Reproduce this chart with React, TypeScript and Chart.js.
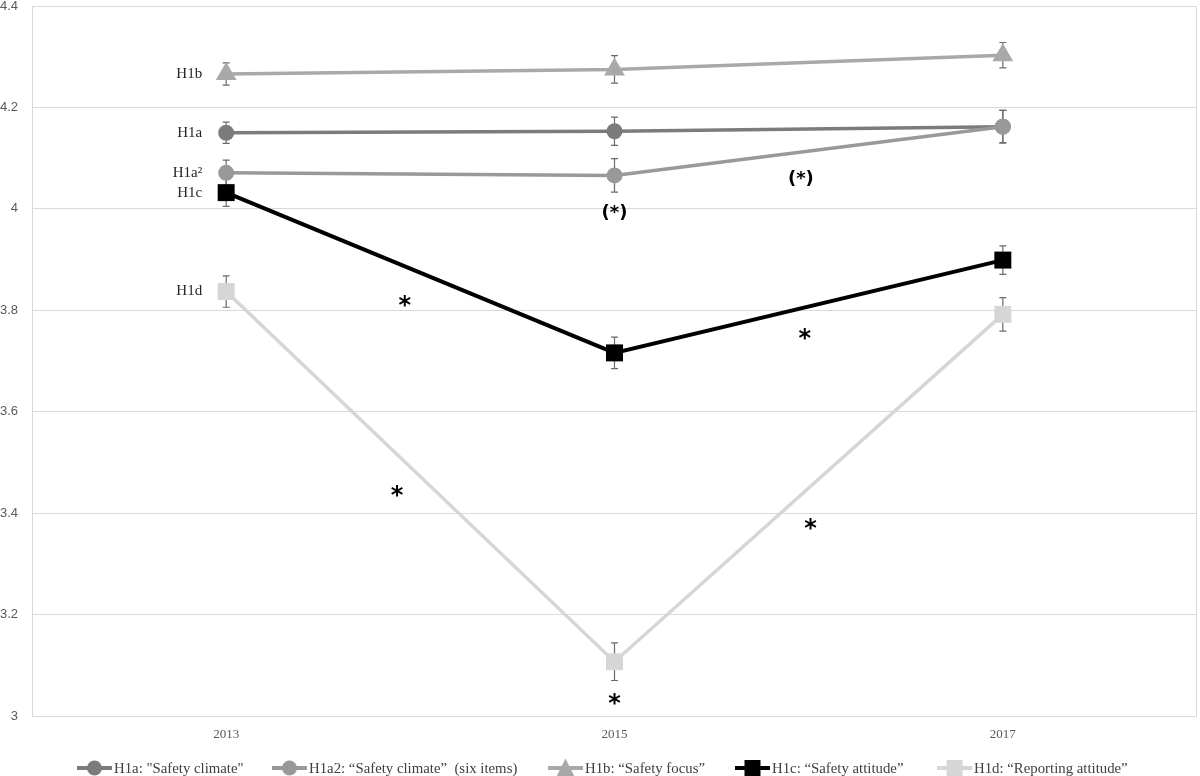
import { useEffect, useRef } from "react";
import { Chart, registerables } from "chart.js";

Chart.register(...registerables);

const YEARS = ["2013", "2015", "2017"];

const H1A = [4.15, 4.153, 4.162];
const H1A_ERR = [0.021, 0.028, 0.032];
const H1A2 = [4.071, 4.066, 4.162];
const H1A2_ERR = [0.025, 0.033, 0.032];
const H1B = [4.266, 4.275, 4.303];
const H1B_ERR = [0.022, 0.027, 0.025];
const H1C = [4.032, 3.716, 3.899];
const H1C_ERR = [0.027, 0.031, 0.028];
const H1D = [3.837, 3.107, 3.792];
const H1D_ERR = [0.031, 0.037, 0.033];

const Y_MIN = 3;
const Y_MAX = 4.4;
const Y_STEP = 0.2;

const LEGEND_LABELS = [
    'H1a: "Safety climate"',
    "H1a2: \u201cSafety climate\u201d  (six items)",
    "H1b: \u201cSafety focus\u201d",
    "H1c: \u201cSafety attitude\u201d",
    "H1d: \u201cReporting attitude\u201d",
];
const SIDE_LABELS = ["H1a", "H1a\u00b2", "H1b", "H1c", "H1d"];

// significance marks, x as category position, y as value
const STAR_TEXT = ["*", "*", "(*)", "(*)", "*", "*", "*"];
const STAR_X = [0.46, 0.44, 1.0, 1.48, 1.49, 1.505, 1.0];
const STAR_Y = [3.817, 3.442, 3.992, 4.059, 3.751, 3.377, 3.032];

const COLORS = ["#7b7b7b", "#999999", "#a9a9a9", "#000000", "#d6d6d6"];
const SHAPES = ["circle", "circle", "triangle", "rect", "rect"];
const RADII = [8, 8, 12, 12, 12];

const SERIES = [H1A, H1A2, H1B, H1C, H1D];
const ERRORS = [H1A_ERR, H1A2_ERR, H1B_ERR, H1C_ERR, H1D_ERR];

// legend entry starts (px), as laid out in the original
const LEGEND_X = [77, 272, 548, 735, 937];

const SERIF = "'Liberation Serif', 'Times New Roman', serif";

function marker(ctx: CanvasRenderingContext2D, shape: string, x: number, y: number, s: number, color: string) {
    ctx.save();
    ctx.fillStyle = color;
    ctx.beginPath();
    if (shape === "circle") {
        ctx.arc(x, y, s / 2, 0, Math.PI * 2);
    } else if (shape === "triangle") {
        ctx.moveTo(x, y - s / 2);
        ctx.lineTo(x + s / 2, y + s / 2);
        ctx.lineTo(x - s / 2, y + s / 2);
        ctx.closePath();
    } else {
        ctx.rect(x - s / 2, y - s / 2, s, s);
    }
    ctx.fill();
    ctx.restore();
}

const extrasPlugin = {
    id: "extras",
    beforeDatasetsDraw(chart: any) {
        const { ctx, chartArea, scales } = chart;
        const xs = scales.x;
        const ys = scales.y;
        ctx.save();
        ctx.strokeStyle = "#d9d9d9";
        ctx.lineWidth = 1;
        ctx.strokeRect(chartArea.left + 0.5, chartArea.top + 0.5, chartArea.right - chartArea.left - 1, chartArea.bottom - chartArea.top);
        ctx.restore();

        // error bars, under the markers
        ctx.save();
        ctx.strokeStyle = "#6b6b6b";
        ctx.lineWidth = 1.2;
        SERIES.forEach((vals, si) => {
            vals.forEach((v, i) => {
                const x = xs.getPixelForValue(i);
                const top = ys.getPixelForValue(v + ERRORS[si][i]);
                const bot = ys.getPixelForValue(v - ERRORS[si][i]);
                ctx.beginPath();
                ctx.moveTo(x, top);
                ctx.lineTo(x, bot);
                ctx.moveTo(x - 3.5, top);
                ctx.lineTo(x + 3.5, top);
                ctx.moveTo(x - 3.5, bot);
                ctx.lineTo(x + 3.5, bot);
                ctx.stroke();
            });
        });
        ctx.restore();
    },
    afterDatasetsDraw(chart: any) {
        const { ctx, scales } = chart;
        const xs = scales.x;
        const ys = scales.y;

        // series labels next to 2013 points
        ctx.save();
        ctx.fillStyle = "#262626";
        ctx.font = `15px ${SERIF}`;
        ctx.textAlign = "right";
        ctx.textBaseline = "middle";
        SERIES.forEach((vals, si) => {
            ctx.fillText(SIDE_LABELS[si], xs.getPixelForValue(0) - 24, ys.getPixelForValue(vals[0]));
        });
        ctx.restore();

        // significance marks
        ctx.save();
        ctx.fillStyle = "#000";
        ctx.textAlign = "center";
        ctx.textBaseline = "middle";
        STAR_TEXT.forEach((t, i) => {
            ctx.font = t === "*" ? "bold 24px 'DejaVu Sans', sans-serif" : "bold 18px 'DejaVu Sans', sans-serif";
            ctx.fillText(t, xs.getPixelForValue(STAR_X[i]), ys.getPixelForValue(STAR_Y[i]) + (t === "*" ? 5 : 0));
        });
        ctx.restore();
    },
    afterDraw(chart: any) {
        const { ctx } = chart;
        ctx.save();
        ctx.font = `14.8px ${SERIF}`;
        ctx.textBaseline = "middle";
        const lineLen = 35;
        const gap = 2;
        const y = chart.height - 8;
        LEGEND_LABELS.forEach((l, i) => {
            const x = LEGEND_X[i];
            ctx.strokeStyle = COLORS[i];
            ctx.lineWidth = 4;
            ctx.beginPath();
            ctx.moveTo(x, y);
            ctx.lineTo(x + lineLen, y);
            ctx.stroke();
            const s = SHAPES[i] === "circle" ? 15 : SHAPES[i] === "triangle" ? 19 : 16;
            marker(ctx, SHAPES[i], x + lineLen / 2, y, s, COLORS[i]);
            ctx.fillStyle = "#404040";
            ctx.fillText(l, x + lineLen + gap, y + 1);
        });
        ctx.restore();
    },
};

export default function App() {
    const chartRef = useRef<HTMLCanvasElement>(null);
    const chartInstanceRef = useRef<Chart | null>(null);

    useEffect(() => {
        document.body.style.margin = "0";
        const ctx = chartRef.current?.getContext("2d");
        if (ctx && !chartInstanceRef.current) {
            chartInstanceRef.current = new Chart(ctx, {
                type: "line",
                data: {
                    labels: YEARS,
                    datasets: SERIES.map((vals, i) => ({
                        label: LEGEND_LABELS[i],
                        data: vals,
                        borderColor: COLORS[i],
                        backgroundColor: COLORS[i],
                        borderWidth: i === 3 ? 4 : 3.5,
                        pointStyle: SHAPES[i],
                        pointRadius: RADII[i],
                        pointBorderWidth: 0,
                        pointBackgroundColor: COLORS[i],
                        tension: 0,
                        order: 5 - i,
                    })),
                },
                options: {
                    responsive: true,
                    maintainAspectRatio: false,
                    animation: false,
                    layout: {
                        autoPadding: false,
                        padding: { top: 6, right: 3, bottom: 32, left: 0 },
                    },
                    scales: {
                        x: {
                            offset: true,
                            grid: { display: false, drawTicks: false },
                            border: { display: false },
                            ticks: {
                                color: "#595959",
                                padding: 11,
                                font: { family: SERIF, size: 13 },
                            },
                            afterFit: (scale: any) => {
                                scale.height = 28;
                                scale.paddingLeft = 0;
                                scale.paddingRight = 0;
                            },
                        },
                        y: {
                            min: Y_MIN,
                            max: Y_MAX,
                            grid: { color: "#d9d9d9", drawTicks: false },
                            border: { display: false },
                            ticks: {
                                stepSize: Y_STEP,
                                color: "#595959",
                                padding: 14,
                                font: { family: "'Liberation Sans', Arial, sans-serif", size: 13 },
                                callback: (v: any) => String(Math.round(Number(v) * 10) / 10),
                            },
                            afterFit: (scale: any) => {
                                scale.width = 32;
                                scale.paddingTop = 0;
                                scale.paddingBottom = 0;
                            },
                        },
                    },
                    plugins: {
                        legend: { display: false },
                        tooltip: { enabled: false },
                    },
                },
                plugins: [extrasPlugin],
            });
        }
        return () => {
            if (chartInstanceRef.current) {
                chartInstanceRef.current.destroy();
                chartInstanceRef.current = null;
            }
        };
    }, []);

    return (
        <div style={{ width: 1200, height: 776, position: "relative", background: "#fff" }}>
            <canvas ref={chartRef} />
        </div>
    );
}
